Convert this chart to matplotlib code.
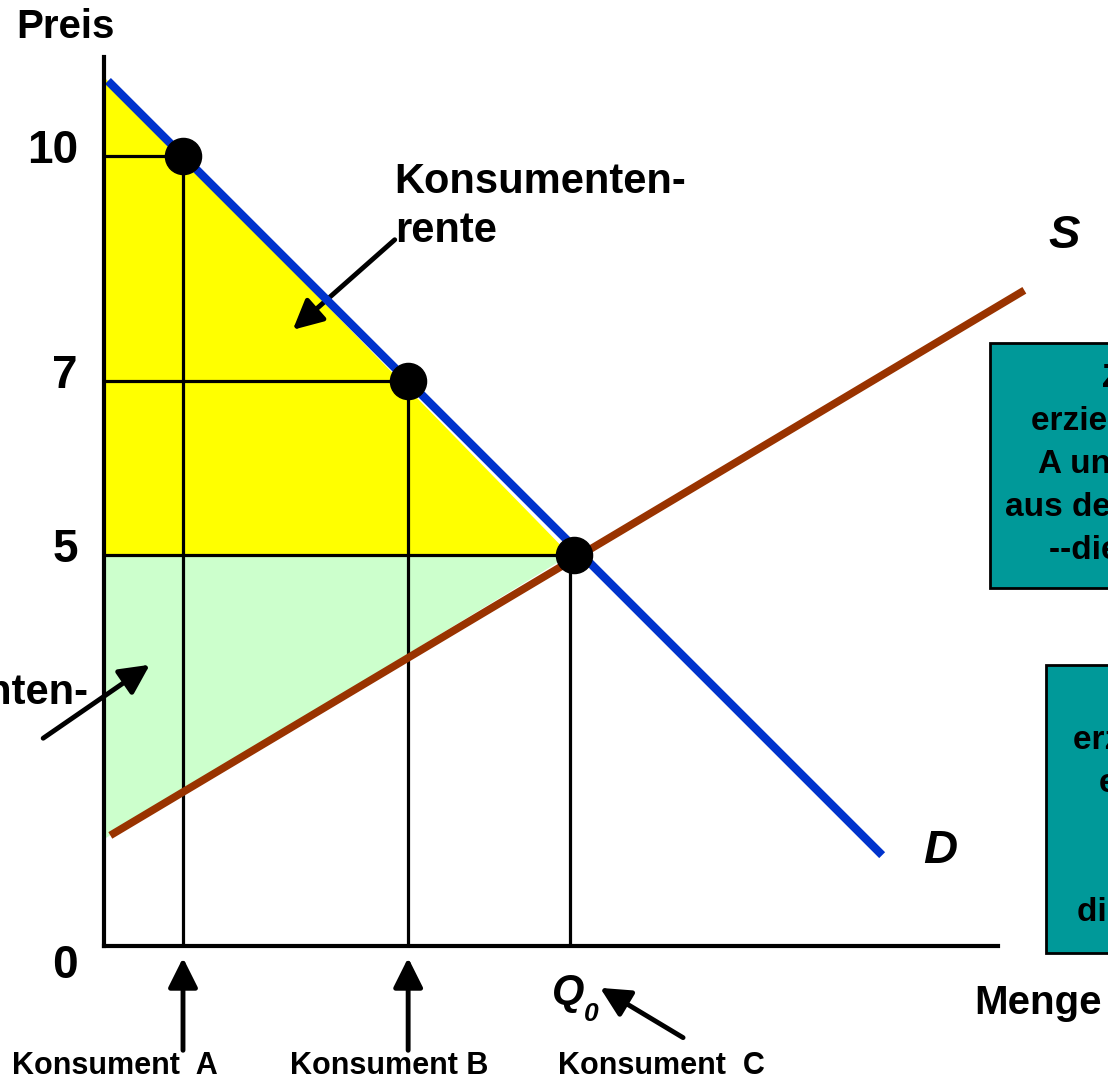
import numpy as np
import matplotlib.pyplot as plt
from matplotlib.patches import Rectangle, Polygon

plt.rcParams['font.family'] = ['Liberation Sans', 'DejaVu Sans']

# Nachfrage (D) und Angebot (S) als Endpunkte der Geraden
nachfrage_x = [0.05, 9.85]
nachfrage_p = [10.95, 1.15]
angebot_x = [0.08, 11.65]
angebot_p = [1.40, 8.30]

# Konsumenten A, B, C: Menge und Zahlungsbereitschaft
konsumenten = ["Konsument  A", "Konsument B", "Konsument  C"]
konsum_menge = [1.0, 3.85, 5.9]
konsum_preis = [10.0, 7.15, 4.95]

# Preisachse
preis_ticks = [10.0, 7.15, 4.95, 0.0]
preis_labels = ["10", "7", "5", "0"]

box1_text = "Zusammen\nerzielen Konsument\nA und B eine Rente\naus dem Kauf der Ware\n--die gelbe Fläche"
box2_text = "Produzenten\nerzielen Gewinne\nebenfalls eine\nRente\nbis Q\u2080 --\ndie grüne Fläche"

px = 79.0  # Pixel je Einheit
fig = plt.figure(figsize=(11.08, 10.81), dpi=100)
ax = fig.add_axes([0, 0, 1, 1])
ax.set_xlim(-104 / px, (1108 - 104) / px)
ax.set_ylim(-(1081 - 946) / px, 946 / px)
ax.axis("off")

q0 = konsum_menge[2]
p0 = konsum_preis[2]

# Konsumentenrente (gelb) und Produzentenrente (hellgrün)
d0 = nachfrage_p[0] - nachfrage_x[0] * (nachfrage_p[1] - nachfrage_p[0]) / (nachfrage_x[1] - nachfrage_x[0])
s0 = angebot_p[0] - angebot_x[0] * (angebot_p[1] - angebot_p[0]) / (angebot_x[1] - angebot_x[0])
ax.add_patch(Polygon([(0, d0), (q0, p0), (0, p0)], closed=True, facecolor="#FFFF00", edgecolor="none", zorder=1))
ax.add_patch(Polygon([(0, p0), (q0, p0), (0, s0)], closed=True, facecolor="#CCFFCC", edgecolor="none", zorder=1))

# Hilfslinien
for m, p in zip(konsum_menge, konsum_preis):
    ax.plot([0, m], [p, p], color="black", lw=2.3, zorder=2, solid_capstyle="butt")
    ax.plot([m, m], [0, p], color="black", lw=2.3, zorder=2, solid_capstyle="butt")

# Kurven
ax.plot(angebot_x, angebot_p, color="#993300", lw=5.5, zorder=3, solid_capstyle="butt")
ax.plot(nachfrage_x, nachfrage_p, color="#0033CC", lw=6, zorder=4, solid_capstyle="butt")
ax.plot(konsum_menge[:2] + [5.95], konsum_preis, "o", color="black", ms=26, zorder=5)

# Achsen
ax.plot([0, 0], [0, 11.25], color="black", lw=3, zorder=6)
ax.plot([0, 11.32], [0, 0], color="black", lw=3, zorder=6)

for t, lab in zip(preis_ticks, preis_labels):
    yy = t + 0.06 if t > 0 else -0.25
    ax.text(-0.33, yy, lab, ha="right", va="center", fontsize=33, fontweight="bold")

ax.text(-0.49, 11.63, "Preis", ha="center", va="center", fontsize=29, fontweight="bold")
ax.text(11.02, -0.72, "Menge", ha="left", va="center", fontsize=29, fontweight="bold")
ax.text(5.88, -0.6, "Q", ha="center", va="center", fontsize=30, fontweight="bold", style="italic")
ax.text(6.17, -0.86, "0", ha="center", va="center", fontsize=19, fontweight="bold", style="italic")
ax.text(12.16, 8.99, "S", ha="center", va="center", fontsize=34, fontweight="bold", style="italic")
ax.text(10.58, 1.2, "D", ha="center", va="center", fontsize=34, fontweight="bold", style="italic")

ax.text(3.68, 9.93, "Konsumenten-\nrente", ha="left", va="top", fontsize=30, fontweight="bold",
        linespacing=1.32)
ax.text(-0.2, 3.45, "Produzenten-\nrente", ha="right", va="top", fontsize=30, fontweight="bold",
        multialignment="left", linespacing=1.32)

# Pfeile
pfeil = dict(arrowstyle="-|>", lw=3.5, color="black", mutation_scale=45, shrinkA=0, shrinkB=0)
ax.annotate("", xy=(2.39, 7.80), xytext=(3.68, 8.94), arrowprops=pfeil)
ax.annotate("", xy=(0.58, 3.56), xytext=(-0.77, 2.63), arrowprops=pfeil)
ax.annotate("", xy=(6.28, -0.53), xytext=(7.33, -1.16), arrowprops=pfeil)
for m in konsum_menge[:2]:
    ax.annotate("", xy=(m, -0.15), xytext=(m, -1.32), arrowprops=pfeil)

for m, name in zip([0.14, 3.61, 7.06], konsumenten):
    ax.text(m, -1.52, name, ha="center", va="center", fontsize=22, fontweight="bold")

# Textboxen (rechts abgeschnitten)
ax.add_patch(Rectangle((11.22, 4.53), 5, 3.1, facecolor="#009999", edgecolor="black", lw=2, zorder=7))
ax.text(13.75, 6.09, box1_text, ha="center", va="center", fontsize=24, fontweight="bold",
        linespacing=1.5, zorder=8)
ax.add_patch(Rectangle((11.92, -0.09), 5, 3.65, facecolor="#009999", edgecolor="black", lw=2, zorder=7))
ax.text(14.0, 1.78, box2_text, ha="center", va="center", fontsize=24, fontweight="bold",
        linespacing=1.5, zorder=8)

fig.savefig("out.png", dpi=100)
